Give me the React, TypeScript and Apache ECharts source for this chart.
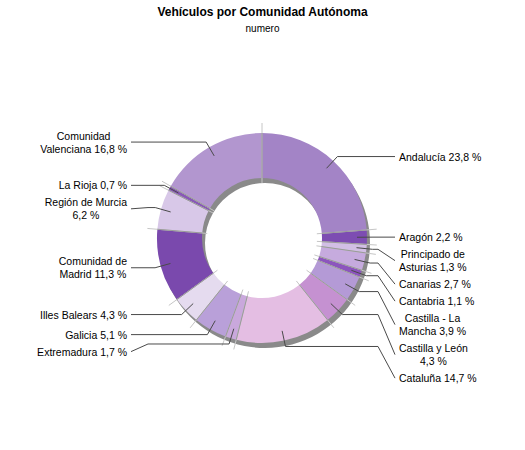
import React, { useEffect, useRef } from "react";
import * as echarts from "echarts";

// ---- data ----
const categories: string[] = [
  "Andalucía",
  "Aragón",
  "Principado de Asturias",
  "Canarias",
  "Cantabria",
  "Castilla - La Mancha",
  "Castilla y León",
  "Cataluña",
  "Extremadura",
  "Galicia",
  "Illes Balears",
  "Comunidad de Madrid",
  "Región de Murcia",
  "La Rioja",
  "Comunidad Valenciana",
];
const percentages: number[] = [23.8, 2.2, 1.3, 2.7, 1.1, 3.9, 4.3, 14.7, 1.7, 5.1, 4.3, 11.3, 6.2, 0.7, 16.8];
const sliceColors: string[] = [
  "#a384c6",
  "#7d4db2",
  "#d2bfe5",
  "#c6abde",
  "#8c55bd",
  "#b49ad6",
  "#c591d1",
  "#e4bee3",
  "#c9a8dc",
  "#b9a0d9",
  "#e5dbef",
  "#7a49ad",
  "#d8c8e8",
  "#8959b7",
  "#b296cf",
];
// how a label is broken over two lines
const labelWrap: Record<string, string> = {
  "Principado de Asturias": "Principado de\nAsturias ",
  "Castilla - La Mancha": "Castilla - La\nMancha ",
  "Castilla y León": "Castilla y León\n",
  "Comunidad de Madrid": "Comunidad de\nMadrid ",
  "Región de Murcia": "Región de Murcia\n",
  "Comunidad Valenciana": "Comunidad\nValenciana ",
};
const titleText = "Vehículos por Comunidad Autónoma";
const subtitleText = "numero";

// ---- layout ----
const CX = 262;
const CY = 238;
const R_IN = 60;
const R_OUT = 105;
const R_LABEL = 95;
const LINE_LEN = 16;
const FONT = "'Liberation Sans', Arial, sans-serif";

const fmt = (v: number) => v.toFixed(1).replace(".", ",") + " %";

export default function App() {
  const ref = useRef<HTMLDivElement>(null);
  useEffect(() => {
    if (!ref.current) return;
    const chart = echarts.init(ref.current, undefined, { renderer: "svg" });
    const total = percentages.reduce((a, b) => a + b, 0);
    const data = categories.map((name, i) => ({
      name,
      value: percentages[i],
      itemStyle: { color: sliceColors[i] },
    }));
    const option: any = {
      animation: false,
      backgroundColor: "#ffffff",
      title: {
        text: titleText,
        subtext: subtitleText,
        left: "center",
        top: 1,
        itemGap: 5,
        textStyle: { fontFamily: FONT, fontSize: 12, fontWeight: "bold", color: "#000" },
        subtextStyle: { fontFamily: FONT, fontSize: 10, color: "#000" },
      },
      series: [
        {
          type: "pie",
          z: 1,
          silent: true,
          center: [CX + 3, CY + 5],
          radius: [R_IN, R_OUT],
          label: { show: false },
          labelLine: { show: false },
          data: [{ value: total, itemStyle: { color: "#8a8a8a" } }],
        },
        {
          type: "pie",
          z: 2,
          silent: true,
          center: [CX, CY],
          radius: [R_IN, R_OUT],
          startAngle: 90,
          clockwise: true,
          label: { show: false },
          labelLine: { show: false },
          data,
        },
        {
          type: "custom",
          z: 3,
          silent: true,
          coordinateSystem: "none",
          data: percentages,
          renderItem: (params: any) => {
            const i = params.dataIndex;
            let cum = 0;
            for (let j = 0; j < i; j++) cum += percentages[j];
            const ang = (cum / total) * Math.PI * 2;
            const dx = Math.sin(ang);
            const dy = -Math.cos(ang);
            return {
              type: "group",
              children: [
                {
                  type: "line",
                  shape: { x1: CX + dx * 55, y1: CY + dy * 55, x2: CX + dx * 115, y2: CY + dy * 115 },
                  style: { stroke: "#c6c6c6", lineWidth: 1 },
                },
                {
                  type: "line",
                  shape: { x1: CX + dx * R_IN, y1: CY + dy * R_IN, x2: CX + dx * R_OUT, y2: CY + dy * R_OUT },
                  style: { stroke: "#9a9a9a", lineWidth: 1 },
                },
              ],
            };
          },
        },
        {
          type: "pie",
          z: 4,
          silent: true,
          center: [CX, CY],
          radius: [0, R_LABEL],
          startAngle: 90,
          clockwise: true,
          avoidLabelOverlap: true,
          minShowLabelAngle: 0,
          itemStyle: { color: "rgba(0,0,0,0)" },
          label: {
            show: true,
            position: "outside",
            fontFamily: FONT,
            fontSize: 10.5,
            lineHeight: 13,
            padding: [1, 0],
            color: "#000",
            distanceToLabelLine: 4,
            formatter: (p: any) => {
              const w = labelWrap[p.name];
              return (w ? w : p.name + " ") + fmt(p.value);
            },
          },
          labelLine: {
            show: true,
            length: LINE_LEN,
            length2: 8,
            smooth: false,
            lineStyle: { color: "#4a4a4a", width: 1 },
          },
          labelLayout: (p: any) => {
            const pts = p.labelLinePoints;
            if (!pts) return {};
            const isRight = pts[0][0] >= CX;
            const endX = isRight ? CX + 133 : CX - 131;
            const w = p.labelRect.width;
            const p0 = pts[0];
            const k = (R_LABEL + LINE_LEN) / R_LABEL;
            const elbow = [CX + (p0[0] - CX) * k, CY + (p0[1] - CY) * k];
            const labelY = pts[2][1];
            const shifted = Math.abs(labelY - elbow[1]) > 1;
            const midX = isRight ? endX - 17 : endX + 17;
            const points = shifted
              ? [p0, elbow, [midX, elbow[1]], [endX, labelY]]
              : [p0, elbow, [endX, elbow[1]]];
            return {
              x: isRight ? endX + 4 + w / 2 : endX - 4 - w / 2,
              align: "center",
              labelLinePoints: points,
            };
          },
          data: data.map((d) => ({ name: d.name, value: d.value })),
        },
      ],
    };
    chart.setOption(option);
    return () => chart.dispose();
  }, []);
  return (
    <div
      ref={ref}
      style={{ position: "absolute", left: 0, top: 0, width: 525, height: 450, background: "#fff" }}
    />
  );
}
